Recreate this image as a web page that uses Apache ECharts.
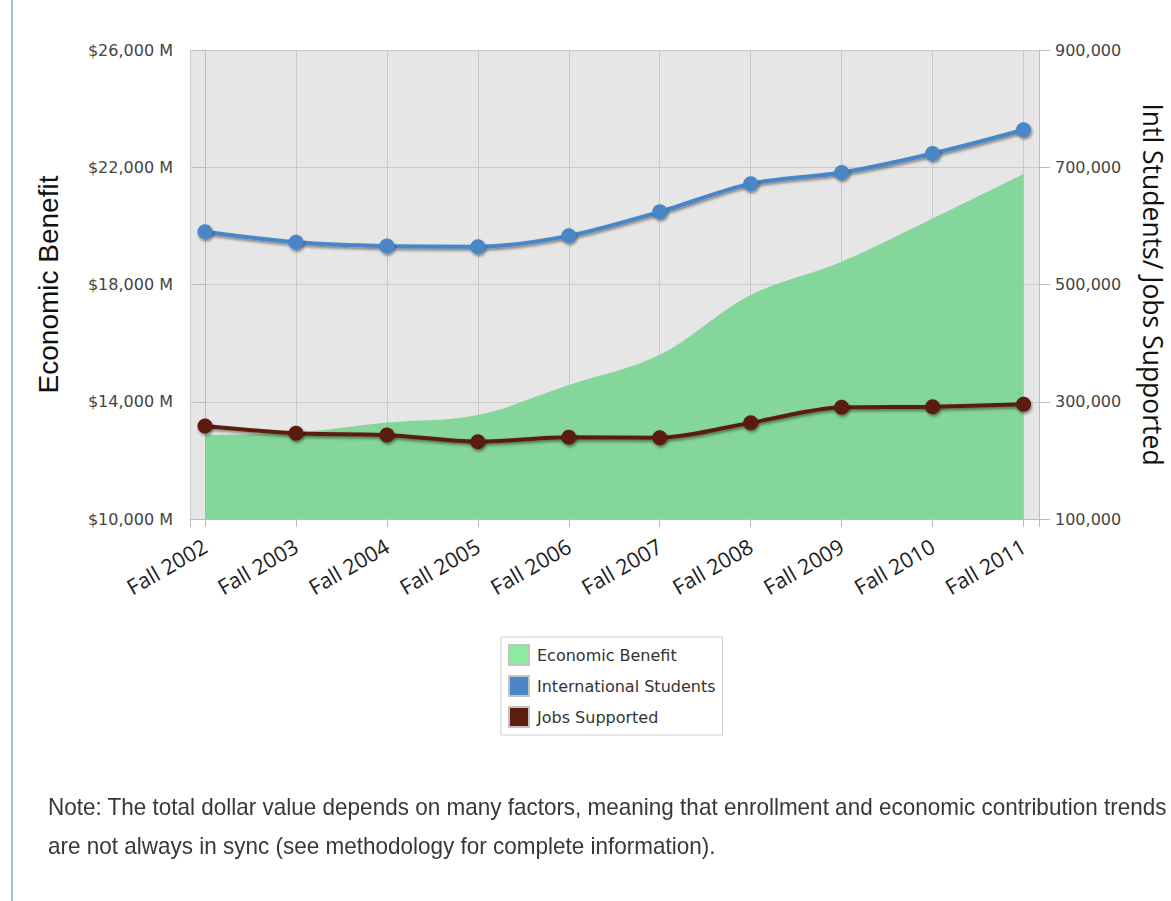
<!DOCTYPE html>
<html>
<head>
<meta charset="utf-8">
<title>Economic Benefit, International Students and Jobs Supported</title>
<script src="https://cdn.jsdelivr.net/npm/echarts@6/dist/echarts.min.js"></script>
<style>
  html, body { margin: 0; padding: 0; background: #ffffff; }
  body { width: 1171px; height: 901px; position: relative; overflow: hidden; }
  #page-rule { position: absolute; left: 11px; top: 0; width: 2px; height: 901px; background: #a9bbd2; }
  #chart { position: absolute; left: 0; top: 0; width: 1171px; height: 760px; }
  #note {
    position: absolute; left: 48px; top: 787px; width: 1300px;
    font-family: "Liberation Sans", Arial, sans-serif;
    font-size: 24px; line-height: 39px; color: #383838; white-space: nowrap;
    transform: scaleX(0.937); transform-origin: 0 0;
  }
</style>
</head>
<body>
<div id="page-rule"></div>
<div id="chart"></div>
<div id="note">
  <div>Note: The total dollar value depends on many factors, meaning that enrollment and economic contribution trends</div>
  <div>are not always in sync (see methodology for complete information).</div>
</div>
<script>
// Academic years shown on the horizontal axis
const categories = ['Fall 2002', 'Fall 2003', 'Fall 2004', 'Fall 2005', 'Fall 2006',
                    'Fall 2007', 'Fall 2008', 'Fall 2009', 'Fall 2010', 'Fall 2011'];

// Economic benefit in millions of dollars (left axis)
const economicBenefit = [12870, 12950, 13290, 13550, 14570, 15600, 17640, 18780, 20250, 21770];

// International student enrollment (right axis)
const internationalStudents = [590000, 572000, 565500, 564500, 583000, 624000, 672000, 691000, 723500, 764000];

// Jobs supported (right axis)
const jobsSupported = [258600, 246200, 243300, 231900, 239300, 238700, 264300, 290500, 291600, 295600];

// Axis ranges and tick steps
const leftAxisRange = { min: 10000, max: 26000, step: 4000 };
const rightAxisRange = { min: 100000, max: 900000, step: 200000 };

const GREEN = '#86d69b';
const BLUE = '#4a86c8';
const BROWN = '#5c1f0f';
const AXIS_GREY = '#bcbcbc';
const GRID_GREY = '#cacaca';
const TICK_FONT = 'DejaVu Sans, Verdana, sans-serif';

// the category axis is drawn as a numeric axis so the plot keeps a margin on each side
const xPad = { lo: -0.165, hi: categories.length - 1 + 0.17 };
const catIdx = categories.map((_, i) => i);
const toPairs = arr => arr.map((v, i) => [i, v]);

const lineShadow = {
  shadowColor: 'rgba(0,0,0,0.45)', shadowBlur: 3, shadowOffsetX: 1, shadowOffsetY: 2
};

const chart = echarts.init(document.getElementById('chart'), null, { renderer: 'svg' });

chart.setOption({
  animation: false,
  backgroundColor: 'transparent',
  grid: {
    left: 190, right: 132, top: 50, bottom: 241,
    outerBoundsMode: 'none',
    show: true, backgroundColor: '#e6e6e6', borderWidth: 0
  },
  legend: {
    orient: 'vertical',
    left: 501, top: 637,
    padding: [7, 7, 7, 7],
    itemGap: 9,
    itemWidth: 20, itemHeight: 20,
    icon: 'rect',
    backgroundColor: '#ffffff',
    borderColor: '#cfcfcf', borderWidth: 1,
    itemStyle: { borderColor: '#c4c4c4', borderWidth: 2, shadowBlur: 0, shadowColor: 'transparent' },
    textStyle: { fontFamily: TICK_FONT, fontSize: 16, color: '#333', padding: [0, 0, 0, 3] },
    data: [
      { name: 'Economic Benefit', itemStyle: { color: '#8eea9f' } },
      { name: 'International Students', itemStyle: { color: BLUE } },
      { name: 'Jobs Supported', itemStyle: { color: BROWN } }
    ]
  },
  xAxis: {
    type: 'value',
    min: xPad.lo, max: xPad.hi,
    axisLine: { show: true, lineStyle: { color: AXIS_GREY, width: 1 } },
    axisTick: {
      show: true, length: 8, inside: false,
      customValues: [xPad.lo].concat(catIdx, [xPad.hi]),
      lineStyle: { color: AXIS_GREY }
    },
    axisLabel: {
      customValues: catIdx,
      formatter: v => categories[Math.round(v)],
      rotate: 30, margin: 25,
      fontFamily: 'Open Sans, sans-serif', fontSize: 21.5, color: '#1e1e1e'
    },
    splitLine: { show: true, lineStyle: { color: GRID_GREY, width: 1 } }
  },
  yAxis: [
    {
      type: 'value',
      min: leftAxisRange.min, max: leftAxisRange.max, interval: leftAxisRange.step,
      position: 'left',
      name: 'Economic Benefit',
      nameLocation: 'middle', nameRotate: 90, nameGap: 128,
      nameTextStyle: { fontFamily: 'Liberation Sans, Arial, sans-serif', fontSize: 28, color: '#111' },
      axisLine: { show: true, lineStyle: { color: AXIS_GREY } },
      axisTick: { show: true, length: 11, lineStyle: { color: AXIS_GREY } },
      axisLabel: {
        margin: 17,
        formatter: v => '$' + v.toLocaleString('en-US') + ' M',
        fontFamily: TICK_FONT, fontSize: 16, color: '#444'
      },
      splitLine: { show: true, lineStyle: { color: GRID_GREY, width: 1 } }
    },
    {
      type: 'value',
      min: rightAxisRange.min, max: rightAxisRange.max, interval: rightAxisRange.step,
      position: 'right',
      name: 'Intl Students/ Jobs Supported',
      nameLocation: 'middle', nameRotate: -90, nameGap: 101,
      nameTextStyle: { fontFamily: 'Open Sans, sans-serif', fontSize: 26.5, lineHeight: 26, color: '#111' },
      axisLine: { show: true, lineStyle: { color: AXIS_GREY } },
      axisTick: { show: true, length: 11, lineStyle: { color: AXIS_GREY } },
      axisLabel: {
        margin: 16,
        formatter: v => v.toLocaleString('en-US'),
        fontFamily: TICK_FONT, fontSize: 16, color: '#444'
      },
      splitLine: { show: false }
    }
  ],
  series: [
    {
      name: 'Economic Benefit',
      type: 'line',
      yAxisIndex: 0,
      data: toPairs(economicBenefit),
      smooth: 0.35,
      showSymbol: false,
      symbol: 'none',
      lineStyle: { width: 0 },
      itemStyle: { color: GREEN },
      areaStyle: { color: 'rgb(117,211,142)', opacity: 0.87, origin: 'start' },
      z: 1
    },
    {
      name: 'International Students',
      type: 'line',
      yAxisIndex: 1,
      data: toPairs(internationalStudents),
      smooth: 0.3,
      symbol: 'circle',
      symbolSize: 15,
      lineStyle: Object.assign({ width: 4, color: BLUE }, lineShadow),
      itemStyle: Object.assign({ color: BLUE }, lineShadow),
      z: 3
    },
    {
      name: 'Jobs Supported',
      type: 'line',
      yAxisIndex: 1,
      data: toPairs(jobsSupported),
      smooth: 0.3,
      symbol: 'circle',
      symbolSize: 15,
      lineStyle: Object.assign({ width: 4, color: BROWN }, lineShadow),
      itemStyle: Object.assign({ color: BROWN }, lineShadow),
      z: 3
    }
  ]
});
</script>
</body>
</html>
